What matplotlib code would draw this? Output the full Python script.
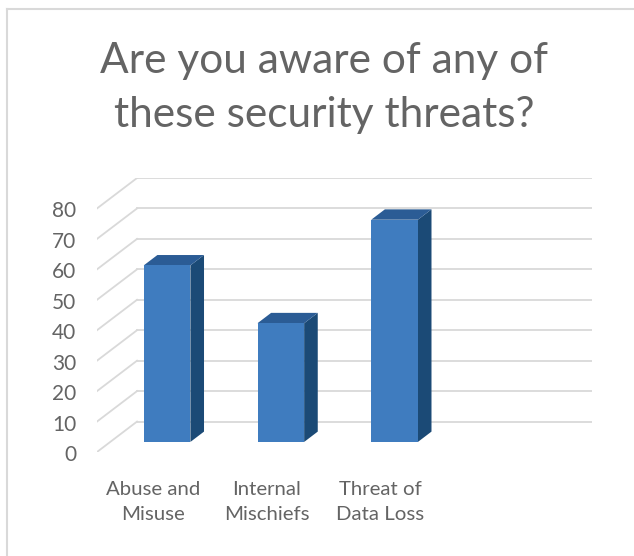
import matplotlib.pyplot as plt
from matplotlib.lines import Line2D

categories = ['Abuse and\nMisuse', 'Internal\nMischiefs', 'Threat of\nData Loss']
values = [58, 39, 73]
y_ticks = [0, 10, 20, 30, 40, 50, 60, 70, 80]

TXT = '#646464'
GRID = '#d9d9d9'
FRONT = '#3f7cbf'
TOP = '#2b5c95'
SIDE = '#1b4a76'

plt.rcParams['font.family'] = ['Lato', 'DejaVu Sans']

W, H = 634, 556
fig = plt.figure(figsize=(W / 100, H / 100), dpi=100)

# plot region in pixels (front-left-bottom corner to back-right-top)
left, right, bottom, top = 97, 592, 452, 178
ax = fig.add_axes([left / W, 1 - bottom / H, (right - left) / W, (bottom - top) / H])

DX = 0.352   # depth offset in category units
DY = 10      # depth offset in value units
nslots = 4
ax.set_xlim(-0.5, nslots - 0.5 + DX)
ax.set_ylim(0, 90)
ax.axis('off')

# back wall gridlines + diagonal floor/side lines
for v in y_ticks:
    ax.plot([-0.5 + DX, nslots - 0.5 + DX], [v + DY, v + DY], color=GRID, lw=1.3, zorder=1)
    ax.plot([-0.5, -0.5 + DX], [v, v + DY], color=GRID, lw=1.3, zorder=1)
    ax.text(-0.5 - 0.18, v - 1, str(v), ha='right', va='center', fontsize=15, color=TXT)

# bars
f1, f2 = 0.33, 0.67
w = 0.41
for i, v in enumerate(values):
    x0 = i + f1 * DX - w / 2
    x1 = x0 + w
    y0 = f1 * DY
    ddx = (f2 - f1) * DX
    ddy = (f2 - f1) * DY
    # side
    ax.fill([x1, x1 + ddx, x1 + ddx, x1], [y0, y0 + ddy, y0 + v + ddy, y0 + v],
            color=SIDE, lw=0, zorder=3)
    # top
    ax.fill([x0, x1, x1 + ddx, x0 + ddx], [y0 + v, y0 + v, y0 + v + ddy, y0 + v + ddy],
            color=TOP, lw=0, zorder=3)
    ax.bar(i + f1 * DX, v, width=w, bottom=y0, color=FRONT, zorder=4)
    ax.text(i - 0.01, -9.5, categories[i], ha='center', va='top', fontsize=14.7, color=TXT,
            linespacing=1.6)

fig.text(324 / W, 1 - 88 / H, 'Are you aware of any of\nthese security threats?',
         ha='center', va='center', fontsize=30.5, color=TXT, linespacing=1.52)

# chart border (only left and top visible)
fig.add_artist(Line2D([7 / W, 7 / W], [0, 1 - 9 / H], color=GRID, lw=1.5))
fig.add_artist(Line2D([7 / W, 1], [1 - 9 / H, 1 - 9 / H], color=GRID, lw=1.5))

fig.savefig('out.png', dpi=100, facecolor='white')
